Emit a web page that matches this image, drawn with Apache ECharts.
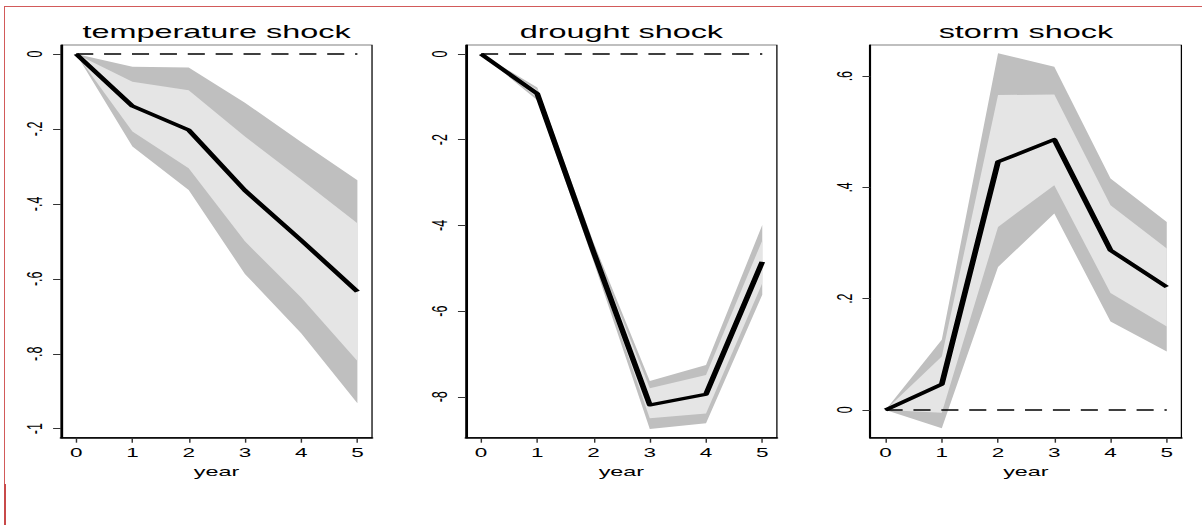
<!DOCTYPE html>
<html>
<head>
<meta charset="utf-8">
<script src="https://cdn.jsdelivr.net/npm/echarts@6/dist/echarts.min.js"></script>
<style>
  html, body { margin: 0; padding: 0; background: #fff; overflow: hidden; }
  #frame { position: absolute; left: 4px; top: 6px; width: 1198px; height: 519px;
           border-left: 1px solid #d25a5a; border-top: 1px solid #d25a5a; }
  #frame2 { position: absolute; left: 4px; top: 484px; width: 2px; height: 41px; background: #c84a4a; }
  #wrap { position: absolute; left: 0; top: 0; width: 668px; height: 525px;
          transform: scale(1.7994, 1); transform-origin: 0 0; }
</style>
</head>
<body>
<div id="frame"></div>
<div id="frame2"></div>
<div id="wrap"></div>
<script>
// ---------- data ----------
const years = [0, 1, 2, 3, 4, 5];

const titles = ['temperature shock', 'drought shock', 'storm shock'];
const xName = 'year';

// temperature shock
const tempLine       = [0, -0.139, -0.203, -0.364, -0.497, -0.634];
const tempOuterUpper = [0, -0.034, -0.036, -0.130, -0.235, -0.337];
const tempInnerUpper = [0, -0.074, -0.097, -0.220, -0.335, -0.452];
const tempInnerLower = [0, -0.207, -0.305, -0.500, -0.650, -0.819];
const tempOuterLower = [0, -0.247, -0.363, -0.587, -0.745, -0.932];
const tempTicks      = [0, -0.2, -0.4, -0.6, -0.8, -1];
const tempTickLabels = ['0', '-.2', '-.4', '-.6', '-.8', '-1'];

// drought shock
const droughtLine       = [0, -0.93, -4.62, -8.19, -7.94, -4.85];
const droughtOuterUpper = [0, -0.78, -4.40, -7.63, -7.26, -3.99];
const droughtInnerUpper = [0, -0.84, -4.50, -7.80, -7.49, -4.35];
const droughtInnerLower = [0, -1.02, -4.74, -8.50, -8.39, -5.35];
const droughtOuterLower = [0, -1.08, -4.84, -8.75, -8.62, -5.62];
const droughtTicks      = [0, -2, -4, -6, -8];
const droughtTickLabels = ['0', '-2', '-4', '-6', '-8'];

// storm shock
const stormLine       = [0, 0.046, 0.446, 0.486, 0.287, 0.221];
const stormOuterUpper = [0, 0.126, 0.641, 0.617, 0.416, 0.338];
const stormInnerUpper = [0, 0.096, 0.566, 0.567, 0.368, 0.290];
const stormInnerLower = [0, -0.005, 0.329, 0.404, 0.210, 0.150];
const stormOuterLower = [0, -0.033, 0.257, 0.353, 0.159, 0.105];
const stormTicks      = [0, 0.2, 0.4, 0.6];
const stormTickLabels = ['0', '.2', '.4', '.6'];

const zeroRef = [0, 0];
const zeroRefX = [0, 5];

// ---------- layout / style ----------
const FONT = "'Liberation Sans', Arial, Helvetica, sans-serif";
const DARK = '#bfbfbf';
const LIGHT = '#e5e5e5';

const panels = [
  { left: 33.9,  yMin: -1.024, yMax: 0.024, ticks: tempTicks, labels: tempTickLabels,
    line: tempLine, ou: tempOuterUpper, iu: tempInnerUpper, il: tempInnerLower, ol: tempOuterLower },
  { left: 258.9, yMin: -8.955, yMax: 0.21, ticks: droughtTicks, labels: droughtTickLabels,
    line: droughtLine, ou: droughtOuterUpper, iu: droughtInnerUpper, il: droughtInnerLower, ol: droughtOuterLower },
  { left: 483.7, yMin: -0.05, yMax: 0.656, ticks: stormTicks, labels: stormTickLabels,
    line: stormLine, ou: stormOuterUpper, iu: stormInnerUpper, il: stormInnerLower, ol: stormOuterLower }
];
const GW = 172.85, GTOP = 45, GH = 392.7;

function band(gi, upper, lower, color) {
  return {
    type: 'custom', xAxisIndex: gi, yAxisIndex: gi, silent: true, z: 1,
    data: years.map((x, i) => [x, lower[i], upper[i]]),
    encode: { x: 0, y: [1, 2] },
    renderItem: function (params, api) {
      if (params.dataIndex !== 0) return null;
      const pts = [];
      for (let i = 0; i < years.length; i++) pts.push(api.coord([years[i], upper[i]]));
      for (let i = years.length - 1; i >= 0; i--) pts.push(api.coord([years[i], lower[i]]));
      return { type: 'polygon', shape: { points: pts }, style: { fill: color, stroke: null } };
    }
  };
}

const option = {
  animation: false,
  backgroundColor: 'transparent',
  title: panels.map((p, i) => ({
    text: titles[i], left: p.left + GW / 2, top: 23, textAlign: 'center', padding: 0,
    textStyle: { fontFamily: FONT, fontSize: 18, fontWeight: 'normal', color: '#000' }
  })),
  grid: panels.map(p => ({
    left: p.left, top: GTOP, width: GW, height: GH, show: true,
    borderColor: '#000', borderWidth: 0.7, backgroundColor: 'transparent',
    containLabel: false, outerBoundsMode: 'none'
  })),
  xAxis: panels.map((p, i) => ({
    type: 'value', gridIndex: i, min: -0.27, max: 5.26,
    name: xName, nameLocation: 'middle', nameGap: 18,
    nameTextStyle: { fontFamily: FONT, fontSize: 13, color: '#000' },
    axisLine: { show: true, onZero: false, lineStyle: { color: '#000', width: 1.6 } },
    axisTick: { show: true, customValues: years, length: 5, lineStyle: { color: '#333', width: 0.8 } },
    axisLabel: { customValues: years, margin: 9, fontFamily: FONT, fontSize: 12.5, color: '#000' },
    splitLine: { show: false }
  })),
  yAxis: panels.map((p, i) => ({
    type: 'value', gridIndex: i, min: p.yMin, max: p.yMax,
    axisLine: { show: true, onZero: false, lineStyle: { color: '#000', width: 1.2 } },
    axisTick: { show: true, customValues: p.ticks, length: 4.4, lineStyle: { color: '#333', width: 1 } },
    axisLabel: {
      customValues: p.ticks, rotate: 90, margin: 8, fontFamily: FONT, fontSize: 12.5, color: '#000',
      formatter: function (v) {
        const k = p.ticks.findIndex(t => Math.abs(t - v) < 1e-9);
        return k >= 0 ? p.labels[k] : '';
      }
    },
    splitLine: { show: false }
  })),
  series: []
};

panels.forEach((p, i) => {
  option.series.push(band(i, p.ou, p.ol, DARK));
  option.series.push(band(i, p.iu, p.il, LIGHT));
  option.series.push({
    type: 'line', xAxisIndex: i, yAxisIndex: i, silent: true, z: 3, symbol: 'none',
    data: zeroRefX.map((x, k) => [x, zeroRef[k]]),
    lineStyle: { color: '#000', width: 1.5, type: [9.5, 6] }
  });
  option.series.push({
    type: 'line', xAxisIndex: i, yAxisIndex: i, silent: true, z: 4, symbol: 'none',
    data: years.map((x, k) => [x, p.line[k]]),
    lineStyle: { color: '#000', width: 3.2, join: 'round' }
  });
});

const chart = echarts.init(document.getElementById('wrap'), null, { renderer: 'svg' });
chart.setOption(option);
</script>
</body>
</html>
